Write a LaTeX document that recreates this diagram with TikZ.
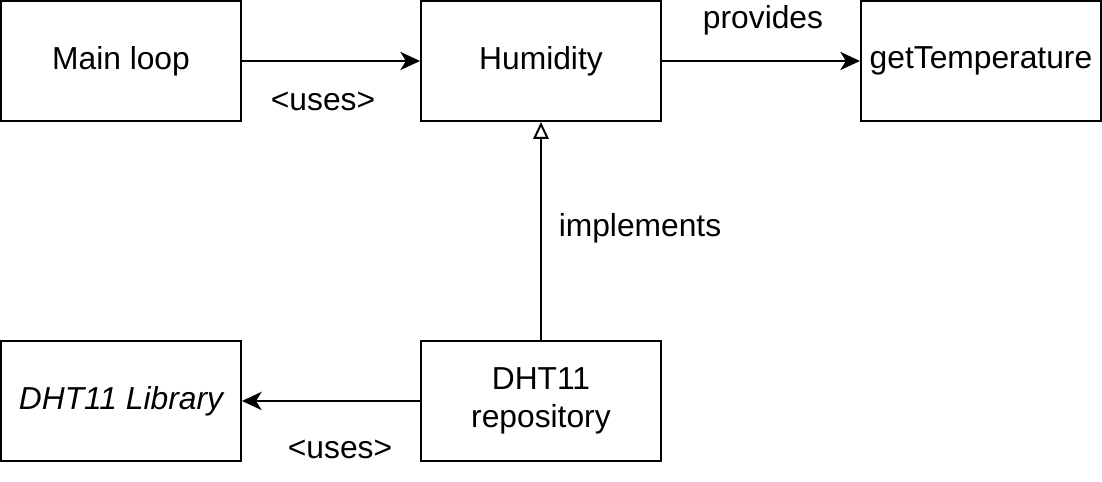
\documentclass[tikz,border=0pt]{standalone}
\usepackage{fontspec}
\setmainfont{Liberation Sans}
\usetikzlibrary{positioning, arrows.meta}

\begin{document}
\begin{tikzpicture}[>={Stealth[length=14pt,width=13pt,inset=4pt]}, font=\fontsize{22.6}{27.5}\selectfont]
    \tikzset{block/.style = {draw, rectangle, align=center, line width=1.4pt,
                             minimum width = 6cm, minimum height = 3cm},
             lbl/.style = {inner sep=0pt}
            }
    \useasboundingbox (0,0) rectangle (27.55,-12.05);
    \node (main) [block] at (3.025,-1.525) {Main loop};
    \node (humidity) [block, right =4.45cm of main] {Humidity};
    \node (gettemp) [block, right =4.95cm of humidity] {getTemperature};
    \node (repo) [block, below =5.45cm of humidity] {DHT11\\repository};
    \node (library) [block, left =4.45cm of repo] {\itshape DHT11 Library};
    \path[draw, ->, line width=1.4pt] (main) edge (humidity);
    \path[draw, ->, line width=1.4pt] (humidity) edge (gettemp);
    \path[draw, -{Triangle[open,length=12pt,width=11pt]}, line width=1.4pt] (repo) edge (humidity);
    \path[draw, ->, line width=1.4pt] (repo) edge (library);
    \node (uses1) [lbl] at (8.075,-2.525) {<uses>};
    \node (provides) [lbl] at (19.075,-0.5) {provides};
    \node (implements) [lbl] at (16.0,-5.7) {implements};
    \node (uses2) [lbl] at (8.5,-11.225) {<uses>};
\end{tikzpicture}
\end{document}
